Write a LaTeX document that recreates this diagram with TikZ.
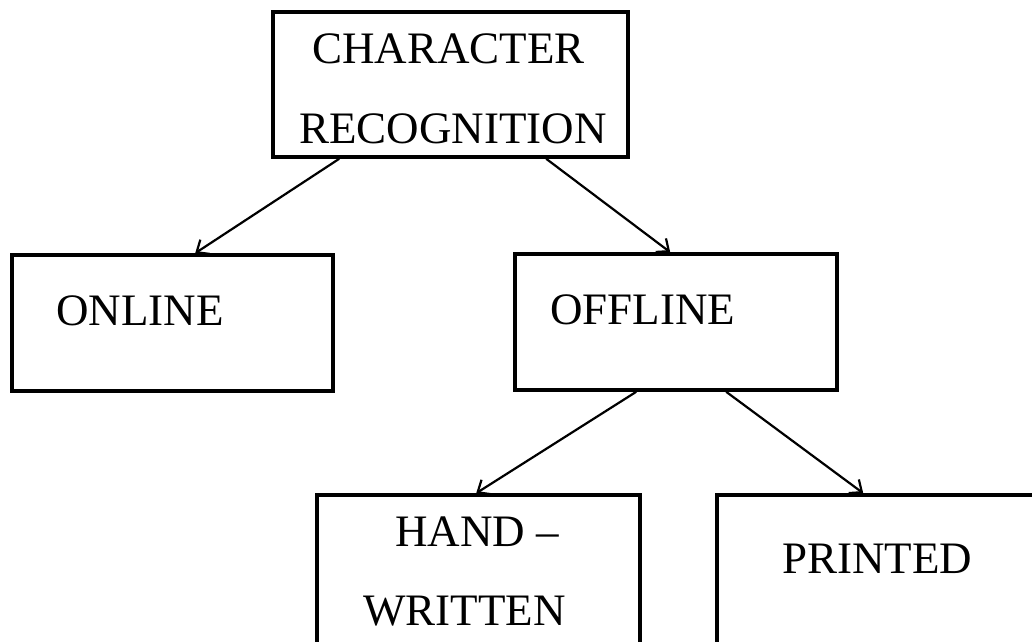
\documentclass[tikz,border=0pt]{standalone}
\usepackage{fontspec}
\setmainfont{Liberation Serif}
\usetikzlibrary{arrows.meta,calc}
\tikzset{
  box/.style={draw, line width=3.6pt, inner sep=0pt},
  lbl/.style={inner sep=0pt, anchor=base west, font=\fontsize{45}{54}\selectfont},
  conn/.style={line width=2.2pt, -{Straight Barb[length=10pt,width=17pt,line width=2.2pt]}}
}
\begin{document}
\begin{tikzpicture}[x=1pt,y=-1pt]
\useasboundingbox (0,0) rectangle (1032,641);
\clip (0,0) rectangle (1032,641);
% boxes
\node[box, minimum width=355pt, minimum height=145pt] (cr) at (450.5,84.5) {};
\node[box, minimum width=321pt, minimum height=136pt] (on) at (172.5,323) {};
\node[box, minimum width=322pt, minimum height=136pt] (off) at (676,322) {};
\node[box, minimum width=323pt, minimum height=205pt] (hw) at (478.5,597.5) {};
\node[box, minimum width=330pt, minimum height=205pt] (pr) at (882,597.5) {};
% texts
\node[lbl, anchor=base] (t1) at (448.5,63) {CHARACTER};
\node[lbl, anchor=base] (t2) at (453,143) {RECOGNITION};
\node[lbl] (t3) at (56,325) {ONLINE};
\node[lbl] (t4) at (550,324) {OFFLINE};
\node[lbl] (t5) at (395,546) {HAND –};
\node[lbl] (t6) at (363,625) {WRITTEN};
\node[lbl] (t7) at (782,573) {PRINTED};
% connector end points
\coordinate (s1) at ($(cr.south west)+(68,0)$);
\coordinate (s2) at ($(cr.south west)+(275,0)$);
\coordinate (e1) at ($(on.north west)+(185,0)$);
\coordinate (e2) at ($(off.north west)+(157,0)$);
\coordinate (s3) at ($(off.south west)+(123,0)$);
\coordinate (s4) at ($(off.south west)+(213,0)$);
\coordinate (e3) at ($(hw.north west)+(161,0)$);
\coordinate (e4) at ($(pr.north west)+(148,0)$);
\draw[conn] (s1) -- (e1);
\draw[conn] (s2) -- (e2);
\draw[conn] (s3) -- (e3);
\draw[conn] (s4) -- (e4);
\end{tikzpicture}
\end{document}
